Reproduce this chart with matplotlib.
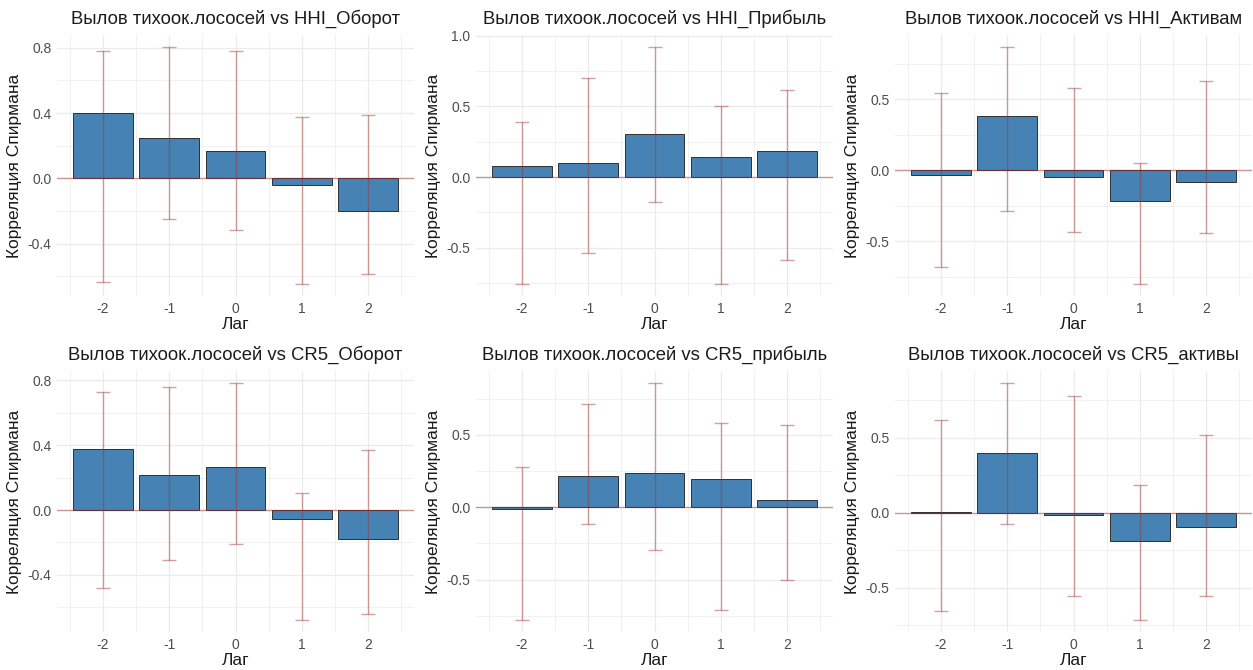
import numpy as np
import matplotlib
matplotlib.use('Agg')
import matplotlib.pyplot as plt

plt.rcParams['font.family'] = ['Liberation Sans', 'DejaVu Sans']
plt.rcParams['axes.unicode_minus'] = False

lags = [-2, -1, 0, 1, 2]

titles = [
    'Вылов тихоок.лососей vs HHI_Оборот',
    'Вылов тихоок.лососей vs HHI_Прибыль',
    'Вылов тихоок.лососей vs HHI_Активам',
    'Вылов тихоок.лососей vs CR5_Оборот',
    'Вылов тихоок.лососей vs CR5_прибыль',
    'Вылов тихоок.лососей vs CR5_активы',
]

# spearman correlation per lag
corr_hhi_turnover = [0.40, 0.25, 0.17, -0.043, -0.20]
corr_hhi_profit = [0.08, 0.097, 0.304, 0.144, 0.182]
corr_hhi_assets = [-0.031, 0.385, -0.049, -0.216, -0.082]
corr_cr5_turnover = [0.377, 0.219, 0.264, -0.056, -0.181]
corr_cr5_profit = [-0.014, 0.219, 0.240, 0.196, 0.053]
corr_cr5_assets = [0.003, 0.395, -0.013, -0.187, -0.096]

# confidence interval bounds
low_hhi_turnover = [-0.637, -0.247, -0.317, -0.649, -0.586]
high_hhi_turnover = [0.78, 0.806, 0.78, 0.377, 0.388]
low_hhi_profit = [-0.759, -0.536, -0.179, -0.759, -0.587]
high_hhi_profit = [0.391, 0.698, 0.922, 0.502, 0.616]
low_hhi_assets = [-0.681, -0.287, -0.434, -0.803, -0.444]
high_hhi_assets = [0.547, 0.870, 0.577, 0.049, 0.629]
low_cr5_turnover = [-0.48, -0.311, -0.208, -0.680, -0.641]
high_cr5_turnover = [0.730, 0.759, 0.785, 0.108, 0.369]
low_cr5_profit = [-0.781, -0.117, -0.295, -0.712, -0.502]
high_cr5_profit = [0.279, 0.717, 0.860, 0.583, 0.569]
low_cr5_assets = [-0.653, -0.073, -0.553, -0.716, -0.553]
high_cr5_assets = [0.615, 0.865, 0.780, 0.184, 0.515]

corrs = [corr_hhi_turnover, corr_hhi_profit, corr_hhi_assets,
         corr_cr5_turnover, corr_cr5_profit, corr_cr5_assets]
lows = [low_hhi_turnover, low_hhi_profit, low_hhi_assets,
        low_cr5_turnover, low_cr5_profit, low_cr5_assets]
highs = [high_hhi_turnover, high_hhi_profit, high_hhi_assets,
         high_cr5_turnover, high_cr5_profit, high_cr5_assets]
major_steps = [0.4, 0.5, 0.5, 0.4, 0.5, 0.5]

W, H = 1253, 670
fig = plt.figure(figsize=(W / 100, H / 100), dpi=100)
fig.patch.set_facecolor('white')

col_left = [57, 476, 895]
row_top = [35, 371]
pw, ph = 357, 261

grid_col = '#EBEBEB'
err_col = '#A03030'

for i in range(6):
    r, c = divmod(i, 3)
    ax = fig.add_axes([col_left[c] / W, 1 - (row_top[r] + ph) / H, pw / W, ph / H])
    vals = np.array(corrs[i])
    lo = np.array(lows[i])
    hi = np.array(highs[i])

    ax.bar(lags, vals, width=0.9, color='#4682B4', edgecolor='#1a1a1a',
           linewidth=0.6, zorder=2)
    ax.errorbar(lags, vals, yerr=[vals - lo, hi - vals], fmt='none',
                ecolor=err_col, alpha=0.45, elinewidth=1.0, capsize=5,
                capthick=1.0, zorder=3)
    ax.axhline(0, color=err_col, alpha=0.45, linewidth=1.0, zorder=3)

    # ggplot-like 5% expansion
    ymin = min(lo.min(), vals.min(), 0)
    ymax = max(hi.max(), vals.max(), 0)
    pad = (ymax - ymin) * 0.05
    ax.set_ylim(ymin - pad, ymax + pad)
    ax.set_xlim(-2.695, 2.695)

    step = major_steps[i]
    majors = np.arange(-2, 3) * step
    majors = majors[(majors >= ymin - pad) & (majors <= ymax + pad)]
    ax.set_yticks(majors)
    ax.set_yticklabels([f'{m:.1f}' for m in majors])
    minors = np.arange(-4, 4) * step + step / 2
    minors = minors[(minors >= ymin - pad) & (minors <= ymax + pad)]
    ax.set_yticks(minors, minor=True)
    ax.set_xticks(lags)
    ax.set_xticks(np.arange(-2.5, 3.0, 1.0), minor=True)

    ax.grid(which='major', color=grid_col, linewidth=0.9, zorder=0)
    ax.grid(which='minor', color=grid_col, linewidth=0.5, zorder=0)
    ax.set_axisbelow(True)
    for s in ax.spines.values():
        s.set_visible(False)
    ax.tick_params(which='both', length=0, labelsize=10, labelcolor='#4D4D4D', pad=4)

    ax.set_title(titles[i], fontsize=13.3, color='#1a1a1a', pad=8)
    ax.set_xlabel('Лаг', fontsize=12.5, color='#1a1a1a', labelpad=1)
    ax.set_ylabel('Корреляция Спирмана', fontsize=12.5, color='#1a1a1a', labelpad=4)

fig.savefig('out.png', dpi=100, facecolor='white')
